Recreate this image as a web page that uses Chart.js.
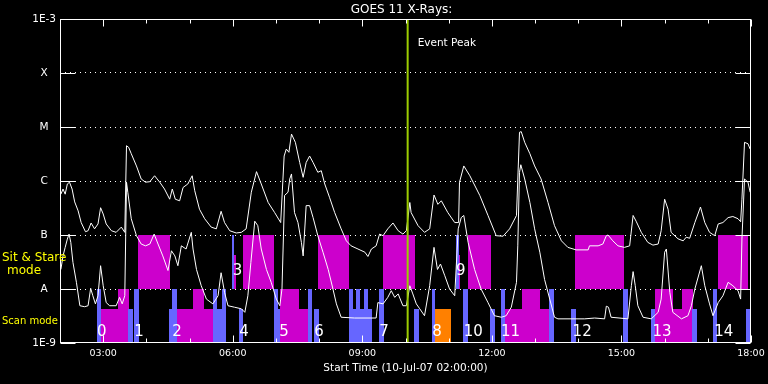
<!DOCTYPE html>
<html>
<head>
<meta charset="utf-8">
<script src="https://cdn.jsdelivr.net/npm/chart.js@4/dist/chart.umd.min.js"></script>
<style>
  html, body { margin: 0; background: #000; }
  canvas { display: block; }
</style>
</head>
<body>
<canvas id="goesChart" width="768" height="384"></canvas>
<script>
// GOES 11 X-ray flux, 10-Jul-07, hours of day (UT) vs W/m^2

// long channel (upper white curve)
const longTime = [
  2.02, 2.07, 2.12, 2.17, 2.22, 2.28, 2.34, 2.42, 2.49, 2.59,
  2.65, 2.72, 2.80, 2.88, 2.94, 3.00, 3.07, 3.19, 3.30, 3.42,
  3.50, 3.54, 3.59, 3.65, 3.77, 3.88, 3.98, 4.08, 4.19, 4.31,
  4.42, 4.54, 4.60, 4.67, 4.77, 4.85, 4.96, 5.06, 5.12, 5.23,
  5.35, 5.50, 5.62, 5.73, 5.81, 5.93, 6.08, 6.20, 6.31, 6.43,
  6.55, 6.66, 6.82, 6.97, 7.11, 7.19, 7.24, 7.30, 7.36, 7.45,
  7.55, 7.63, 7.70, 7.78, 7.86, 7.97, 8.05, 8.13, 8.24, 8.36,
  8.51, 8.63, 8.74, 8.90, 9.06, 9.13, 9.21, 9.32, 9.40, 9.48,
  9.59, 9.71, 9.83, 9.94, 10.02, 10.10, 10.13, 10.29, 10.44, 10.56,
  10.66, 10.75, 10.83, 10.98, 11.14, 11.23, 11.25, 11.35, 11.49, 11.72,
  11.91, 12.10, 12.26, 12.41, 12.57, 12.64, 12.68, 12.76, 12.88, 12.99,
  13.14, 13.30, 13.45, 13.61, 13.76, 13.95, 14.23, 14.26, 14.46, 14.57,
  14.65, 14.69, 14.80, 14.92, 15.07, 15.19, 15.27, 15.34, 15.46, 15.61,
  15.73, 15.85, 15.92, 16.00, 16.08, 16.15, 16.31, 16.43, 16.50, 16.58,
  16.70, 16.83, 16.93, 17.04, 17.16, 17.24, 17.35, 17.47, 17.58, 17.70,
  17.76, 17.79, 17.85, 17.93, 17.98
];
const longFlux = [
  5.7e-7, 7.1e-7, 5.7e-7, 8.8e-7, 9.5e-7, 7.1e-7, 4.1e-7, 2.8e-7, 1.7e-7, 1.15e-7,
  1.2e-7, 1.67e-7, 1.3e-7, 1.6e-7, 3.2e-7, 2.45e-7, 1.6e-7, 1.2e-7, 1.12e-7, 1.4e-7,
  1.12e-7, 4.5e-6, 4.2e-6, 3.2e-6, 1.9e-6, 1.09e-6, 9.5e-7, 9.7e-7, 1.25e-6, 9.5e-7,
  7.1e-7, 4.6e-7, 7.1e-7, 4.6e-7, 4.3e-7, 7.6e-7, 8.8e-7, 1.25e-6, 6.6e-7, 3.0e-7,
  2.0e-7, 1.4e-7, 1.3e-7, 2.75e-7, 1.7e-7, 1.2e-7, 1.09e-7, 1.12e-7, 1.3e-7, 6.2e-7,
  1.49e-6, 8.8e-7, 4.0e-7, 2.6e-7, 1.7e-7, 2.9e-6, 3.9e-6, 3.4e-6, 7.4e-6, 5.2e-6,
  2.2e-6, 1.17e-6, 2.2e-6, 2.9e-6, 2.2e-6, 1.45e-6, 1.55e-6, 8.8e-7, 5.0e-7, 2.6e-7,
  1.3e-7, 7.8e-8, 6.3e-8, 5.5e-8, 4.8e-8, 4.0e-8, 5.5e-8, 6.3e-8, 1.04e-7, 9.7e-8,
  1.3e-7, 1.67e-7, 1.2e-7, 1.04e-7, 1.2e-7, 4.0e-7, 2.6e-7, 1.49e-7, 1.12e-7, 1.3e-7,
  5.5e-7, 3.7e-7, 4.3e-7, 2.6e-7, 1.7e-7, 1.7e-7, 9.5e-7, 1.9e-6, 1.25e-6, 5.4e-7,
  2.3e-7, 9.7e-8, 9.5e-8, 1.3e-7, 2.3e-7, 8.0e-6, 8.2e-6, 5.2e-6, 3.2e-6, 1.9e-6,
  1.09e-6, 4.0e-7, 1.49e-7, 7.8e-8, 5.9e-8, 5.3e-8, 5.3e-8, 6.3e-8, 6.3e-8, 6.8e-8,
  9.7e-8, 1.0e-7, 7.8e-8, 6.3e-8, 5.9e-8, 6.3e-8, 2.3e-7, 1.8e-7, 1.12e-7, 7.3e-8,
  6.5e-8, 6.8e-8, 1.2e-7, 4.6e-7, 3.0e-7, 1.12e-7, 8.5e-8, 7.8e-8, 9.1e-8, 8.7e-8,
  1.7e-7, 3.3e-7, 1.7e-7, 1.12e-7, 9.7e-8, 1.6e-7, 1.7e-7, 2.1e-7, 2.2e-7, 2.0e-7,
  1.76e-7, 4.6e-7, 5.2e-6, 4.9e-6, 3.9e-6
];

// short channel (lower white curve)
const shortTime = [
  2.02, 2.07, 2.12, 2.17, 2.21, 2.25, 2.30, 2.38, 2.46, 2.57,
  2.65, 2.71, 2.76, 2.82, 2.88, 2.94, 3.00, 3.07, 3.15, 3.30,
  3.38, 3.44, 3.50, 3.54, 3.57, 3.65, 3.77, 3.88, 3.98, 4.08,
  4.18, 4.27, 4.38, 4.50, 4.58, 4.66, 4.73, 4.81, 4.92, 5.04,
  5.08, 5.16, 5.27, 5.39, 5.54, 5.66, 5.73, 5.81, 5.89, 6.04,
  6.20, 6.28, 6.35, 6.42, 6.51, 6.58, 6.66, 6.78, 6.89, 7.01,
  7.09, 7.14, 7.20, 7.28, 7.32, 7.36, 7.43, 7.51, 7.59, 7.63,
  7.70, 7.78, 7.86, 7.97, 8.09, 8.21, 8.32, 8.40, 8.51, 8.82,
  9.32, 9.36, 9.48, 9.59, 9.67, 9.75, 9.83, 9.94, 10.02, 10.10,
  10.17, 10.25, 10.33, 10.44, 10.56, 10.66, 10.74, 10.81, 10.91, 11.02,
  11.14, 11.22, 11.29, 11.35, 11.45, 11.60, 11.75, 11.91, 12.06, 12.22,
  12.33, 12.45, 12.57, 12.60, 12.64, 12.67, 12.76, 12.88, 12.99, 13.11,
  13.22, 13.34, 13.45, 13.53, 14.15, 14.38, 14.61, 14.65, 14.70, 14.76,
  15.15, 15.23, 15.27, 15.32, 15.38, 15.50, 15.69, 15.85, 15.92, 16.00,
  16.04, 16.12, 16.19, 16.39, 16.54, 16.62, 16.70, 16.85, 16.93, 17.04,
  17.12, 17.24, 17.35, 17.47, 17.58, 17.70, 17.76, 17.79, 17.85, 17.93, 17.98
];
const shortFlux = [
  2.3e-8, 4.1e-8, 5.9e-8, 8.4e-8, 1.04e-7, 7.3e-8, 3.1e-8, 1.33e-8, 4.9e-9, 4.7e-9,
  4.9e-9, 1.03e-8, 7.5e-9, 5.3e-9, 7.5e-9, 2.7e-8, 1.15e-8, 5.6e-9, 4.9e-9, 4.9e-9,
  7.0e-9, 5.3e-9, 7.5e-9, 9.5e-7, 6.2e-7, 2.0e-7, 9.7e-8, 6.8e-8, 6.3e-8, 6.8e-8,
  1.04e-7, 6.8e-8, 4.1e-8, 2.2e-8, 5.1e-8, 4.1e-8, 2.7e-8, 6.3e-8, 5.5e-8, 1.12e-7,
  5.5e-8, 2.3e-8, 1.15e-8, 6.5e-9, 5.3e-9, 7.5e-9, 2.0e-8, 8.7e-9, 4.9e-9, 4.6e-9,
  4.3e-9, 3.7e-9, 7.5e-9, 3.1e-8, 1.8e-7, 1.49e-7, 5.5e-8, 2.3e-8, 1.33e-8, 6.5e-9,
  4.9e-9, 1.0e-8, 5.4e-7, 6.2e-7, 1.09e-6, 1.35e-6, 2.6e-7, 1.7e-7, 7.3e-8, 4.1e-8,
  3.5e-7, 3.5e-7, 2.1e-7, 9.7e-8, 4.8e-8, 2.3e-8, 1.0e-8, 5.3e-9, 3.0e-9, 2.9e-9,
  2.9e-9, 5.6e-9, 5.3e-9, 7.0e-9, 9.3e-9, 7.0e-9, 8.1e-9, 4.9e-9, 4.9e-9, 1.15e-8,
  8.1e-9, 5.3e-9, 4.3e-9, 3.2e-9, 1.15e-8, 5.9e-8, 2.3e-8, 2.9e-8, 1.76e-8, 1.0e-8,
  7.5e-9, 1.3e-7, 2.1e-7, 2.3e-7, 7.3e-8, 2.3e-8, 1.0e-8, 5.6e-9, 3.2e-9, 3.0e-9,
  3.2e-9, 4.6e-9, 1.33e-8, 6.3e-8, 1.45e-6, 2.0e-6, 1.09e-6, 4.0e-7, 1.3e-7, 4.8e-8,
  1.5e-8, 6.5e-9, 3.0e-9, 2.8e-9, 2.8e-9, 2.9e-9, 2.8e-9, 4.8e-9, 4.6e-9, 3.0e-9,
  2.8e-9, 1.15e-8, 2.1e-8, 1.15e-8, 4.9e-9, 3.0e-9, 2.8e-9, 3.7e-9, 6.5e-9, 4.8e-8,
  5.5e-8, 8.7e-9, 3.7e-9, 2.8e-9, 3.2e-9, 4.9e-9, 1.0e-8, 2.7e-8, 1.15e-8, 5.3e-9,
  3.2e-9, 5.6e-9, 7.5e-9, 1.33e-8, 1.15e-8, 9.3e-9, 6.5e-9, 8.4e-8, 1.09e-6, 9.5e-7, 6.2e-7
];

// axis ticks
const yTickValues = [1e-9, 1e-8, 1e-7, 1e-6, 1e-5, 1e-4, 1e-3];
const yTickLabels = ['1E-9', 'A', 'B', 'C', 'M', 'X', '1E-3'];
const xTickValues = [3, 6, 9, 12, 15, 18];

const eventPeak = 10.05;

// sit & stare pointings, band A..B: [start, end, top flux, kind]
const sitStareBase = 1e-8;
const sitStare = [
  [3.81, 4.55, 1e-7, 'M'],
  [5.98, 6.03, 1e-7, 'B'],
  [6.03, 6.08, 4.3e-8, 'M'],
  [6.24, 6.95, 1e-7, 'M'],
  [7.97, 8.69, 1e-7, 'M'],
  [9.48, 10.22, 1e-7, 'M'],
  [11.18, 11.23, 1e-7, 'B'],
  [11.23, 11.26, 4.3e-8, 'M'],
  [11.44, 11.98, 1e-7, 'M'],
  [13.92, 15.05, 1e-7, 'M'],
  [17.24, 17.94, 1e-7, 'M']
];

// scan mode rasters, band below A: [start, end, top flux, kind]
const scanBase = 1e-9;
const scans = [
  [2.86, 2.96, 1e-8, 'B'],
  [2.96, 3.57, 4.3e-9, 'M'],
  [3.34, 3.59, 1e-8, 'M'],
  [3.57, 3.69, 4.3e-9, 'B'],
  [3.71, 3.83, 1e-8, 'B'],
  [4.52, 4.60, 4.3e-9, 'B'],
  [4.60, 4.70, 1e-8, 'B'],
  [4.70, 5.54, 4.3e-9, 'M'],
  [5.08, 5.33, 1e-8, 'M'],
  [5.54, 5.64, 1e-8, 'B'],
  [5.64, 5.74, 4.3e-9, 'B'],
  [5.74, 5.85, 1e-8, 'B'],
  [6.14, 6.24, 4.3e-9, 'B'],
  [6.96, 7.05, 1e-8, 'B'],
  [7.05, 7.10, 4.3e-9, 'B'],
  [7.10, 7.53, 1e-8, 'M'],
  [7.53, 7.74, 4.3e-9, 'M'],
  [7.74, 7.84, 1e-8, 'B'],
  [7.88, 8.00, 4.3e-9, 'B'],
  [8.69, 9.22, 4.3e-9, 'B'],
  [8.69, 8.78, 1e-8, 'B'],
  [8.86, 8.95, 1e-8, 'B'],
  [9.04, 9.13, 1e-8, 'B'],
  [9.38, 9.50, 1e-8, 'B'],
  [10.20, 10.31, 4.3e-9, 'B'],
  [10.61, 10.68, 1e-8, 'B'],
  [10.68, 11.05, 4.3e-9, 'O'],
  [11.33, 11.45, 1e-8, 'B'],
  [11.96, 12.07, 4.3e-9, 'B'],
  [12.22, 12.31, 1e-8, 'B'],
  [12.31, 13.32, 4.3e-9, 'M'],
  [12.70, 13.11, 1e-8, 'M'],
  [13.32, 13.44, 1e-8, 'B'],
  [13.84, 13.95, 4.3e-9, 'B'],
  [15.04, 15.15, 1e-8, 'B'],
  [15.69, 15.78, 4.3e-9, 'B'],
  [15.78, 16.63, 4.3e-9, 'M'],
  [15.78, 16.19, 1e-8, 'M'],
  [16.40, 16.66, 1e-8, 'M'],
  [16.63, 16.74, 4.3e-9, 'B'],
  [17.13, 17.22, 1e-8, 'B'],
  [17.88, 17.98, 4.3e-9, 'B']
];

// observation numbers
const obsText = ['0', '1', '2', '3', '4', '5', '6', '7', '8', '9', '10', '11', '12', '13', '14'];
const obsTime = [2.97, 3.83, 4.71, 6.11, 6.26, 7.19, 8.00, 9.50, 10.73, 11.28, 11.57, 12.43, 14.09, 15.94, 17.37];
const obsFlux = [1.6e-9, 1.6e-9, 1.6e-9, 2.15e-8, 1.6e-9, 1.6e-9, 1.6e-9, 1.6e-9, 1.6e-9, 2.15e-8, 1.6e-9, 1.6e-9, 1.6e-9, 1.6e-9, 1.6e-9];

const FONT = "'DejaVu Sans', 'Liberation Sans', sans-serif";
const kindColor = { M: '#cc00cc', B: '#6666ff', O: '#ff8000' };

function fillBlocks(chart, list, base) {
    const { ctx, scales: { x, y } } = chart;
    const yb = Math.round(y.getPixelForValue(base));
    list.forEach(([t0, t1, top, kind]) => {
        const x0 = Math.round(x.getPixelForValue(t0));
        const x1 = Math.round(x.getPixelForValue(t1));
        const yt = Math.round(y.getPixelForValue(top));
        ctx.fillStyle = kindColor[kind];
        ctx.fillRect(x0, yt, Math.max(1, x1 - x0), yb - yt);
    });
}

const overlay = {
    id: 'goesOverlay',
    beforeDatasetsDraw(chart) {
        const { ctx } = chart;
        ctx.save();
        fillBlocks(chart, sitStare, sitStareBase);
        fillBlocks(chart, scans, scanBase);
        ctx.restore();
    },
    afterDatasetsDraw(chart) {
        const { ctx, chartArea: a, scales: { x, y } } = chart;
        ctx.save();
        // event peak marker
        const px = x.getPixelForValue(eventPeak);
        ctx.strokeStyle = '#9ccc00';
        ctx.lineWidth = 2;
        ctx.beginPath();
        ctx.moveTo(px, a.top);
        ctx.lineTo(px, a.bottom);
        ctx.stroke();

        // observation numbers
        ctx.fillStyle = '#fff';
        ctx.font = '15px ' + FONT;
        ctx.textAlign = 'center';
        ctx.textBaseline = 'middle';
        obsText.forEach((t, i) => {
            ctx.fillText(t, x.getPixelForValue(obsTime[i]), y.getPixelForValue(obsFlux[i]));
        });
        ctx.restore();
    },
    afterDraw(chart) {
        const { ctx, chartArea: a, scales: { x, y } } = chart;
        ctx.save();
        ctx.strokeStyle = '#fff';
        ctx.lineWidth = 1;
        const L = a.left + 0.5, R = a.right - 0.5, T = a.top + 0.5, B = a.bottom - 0.5;
        ctx.strokeRect(L, T, R - L, B - T);

        ctx.beginPath();
        // hourly ticks, longer every 3 hours
        for (let h = 2; h <= 18; h++) {
            const px = Math.round(x.getPixelForValue(h)) + 0.5;
            const len = h % 3 === 0 ? 7 : 4;
            ctx.moveTo(px, T); ctx.lineTo(px, T + len);
            ctx.moveTo(px, B); ctx.lineTo(px, B - len);
        }
        // decade ticks on both sides
        yTickValues.forEach(v => {
            const py = Math.round(y.getPixelForValue(v)) + 0.5;
            ctx.moveTo(L, py); ctx.lineTo(L + 15, py);
            ctx.moveTo(R - 15, py); ctx.lineTo(R, py);
        });
        ctx.stroke();

        // texts
        ctx.fillStyle = '#fff';
        ctx.textBaseline = 'middle';
        ctx.textAlign = 'center';
        ctx.font = '12px ' + FONT;
        ctx.fillText('GOES 11 X-Rays:', (a.left + a.right) / 2 - 4, 10);
        ctx.font = '10.5px ' + FONT;
        ctx.fillText('Start Time (10-Jul-07 02:00:00)', (a.left + a.right) / 2, 368);
        ctx.textAlign = 'left';
        ctx.font = '10.5px ' + FONT;
        ctx.fillText('Event Peak', x.getPixelForValue(eventPeak) + 10, 43);

        ctx.fillStyle = '#ffff00';
        ctx.font = '12px ' + FONT;
        ctx.fillText('Sit & Stare', 2, 258);
        ctx.textAlign = 'center';
        ctx.fillText('mode', 24, 271);
        ctx.textAlign = 'left';
        ctx.font = '10px ' + FONT;
        ctx.fillText('Scan mode', 2, 321);
        ctx.restore();
    }
};

new Chart(document.getElementById('goesChart'), {
    type: 'line',
    data: {
        datasets: [
            {
                label: 'Long',
                data: longTime.map((t, i) => ({ x: t, y: longFlux[i] })),
                borderColor: '#ffffff',
                borderWidth: 1,
                pointRadius: 0,
                tension: 0
            },
            {
                label: 'Short',
                data: shortTime.map((t, i) => ({ x: t, y: shortFlux[i] })),
                borderColor: '#ffffff',
                borderWidth: 1,
                pointRadius: 0,
                tension: 0
            }
        ]
    },
    options: {
        responsive: false,
        animation: false,
        layout: { padding: { top: 19, right: 17, left: 0, bottom: 0 } },
        plugins: {
            legend: { display: false },
            tooltip: { enabled: false },
            title: { display: false }
        },
        scales: {
            x: {
                type: 'linear',
                min: 2,
                max: 18,
                afterBuildTicks: s => { s.ticks = xTickValues.map(v => ({ value: v })); },
                afterFit: s => { s.height = 41; },
                grid: { display: false, drawTicks: false },
                border: { display: false },
                ticks: {
                    color: '#fff',
                    font: { family: FONT, size: 9.5, lineHeight: 1.8 },
                    padding: 2,
                    maxRotation: 0,
                    autoSkip: false,
                    callback: v => String(v).padStart(2, '0') + ':00'
                }
            },
            y: {
                type: 'logarithmic',
                min: 1e-9,
                max: 1e-3,
                afterBuildTicks: s => { s.ticks = yTickValues.map(v => ({ value: v })); },
                afterFit: s => { s.width = 60; },
                grid: {
                    drawTicks: false,
                    lineWidth: 1,
                    color: c => (c.index === 0 || c.index === yTickValues.length - 1) ? 'rgba(0,0,0,0)' : '#ffffff'
                },
                border: { display: false, dash: [1, 4] },
                ticks: {
                    color: '#fff',
                    font: { family: FONT, size: 10.5 },
                    padding: 4,
                    crossAlign: 'center',
                    autoSkip: false,
                    callback: (v, i) => yTickLabels[i]
                }
            }
        }
    },
    plugins: [overlay]
});
</script>
</body>
</html>
